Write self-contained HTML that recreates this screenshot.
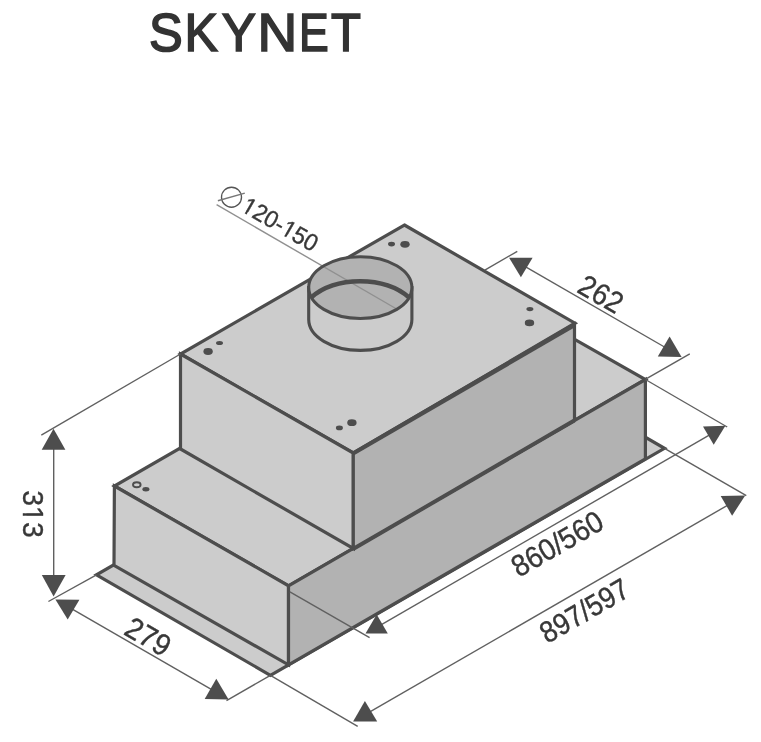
<!DOCTYPE html>
<html><head><meta charset="utf-8">
<style>
html,body{margin:0;padding:0;background:#fff;}
body{width:761px;height:742px;overflow:hidden;}
svg{display:block;will-change:transform;}
text{font-family:"Liberation Sans",sans-serif;}
</style></head>
<body>
<svg width="761" height="742" viewBox="0 0 761 742">
<rect width="761" height="742" fill="#fff"/>
<!-- title -->
<g font-size="55" fill="#333" stroke="#333" stroke-width="1.7">
<text transform="translate(149,51.3) scale(0.92,0.978)">S</text>
<text transform="translate(184.5,51.3) scale(0.91,0.978)">K</text>
<text transform="translate(221.8,51.3) scale(0.93,0.978)">Y</text>
<text transform="translate(257.5,51.3) scale(1,0.978)">N</text>
<text transform="translate(298.9,51.3) scale(0.81,0.978)">E</text>
<text transform="translate(330.9,51.3) scale(0.89,0.978)">T</text>
</g>

<g stroke="#4d4d4d" stroke-width="3.2" stroke-linejoin="miter" fill="#cccccc">
  <!-- plate -->
  <polygon points="96.5,574.8 270.4,675.3 664.5,448.3 490.5,347.4"/>
  <!-- lower box top -->
  <polygon points="114.4,486 288.5,585.8 645.4,379.5 471,280.5"/>
  <!-- lower box left face -->
  <polygon points="114.4,486 288.5,585.8 288.5,664.8 114,565.4"/>
  <!-- lower box right face -->
  <polygon fill="#b2b2b2" points="288.5,585.8 645.4,379.5 645.4,458.8 288.5,664.8"/>
  <!-- upper box top -->
  <polygon points="404.4,225 575,323.2 353.3,453 180.5,354"/>
  <!-- upper box left face -->
  <polygon points="180.5,354 353.3,453 353.3,548.5 180.5,449"/>
  <!-- upper box right face -->
  <polygon fill="#b2b2b2" points="353.3,453 574.5,324 574.5,420 353.3,548.5"/>
  <path d="M353.3,549.3 L574.5,420.9" fill="none"/>
  <path d="M353.3,453.9 L574.5,325.7" fill="none"/>
</g>

<!-- cylinder -->
<g stroke="#4d4d4d" stroke-width="3.1" fill="#cccccc">
  <path d="M308.7,287.6 L308.7,319.5 A51.6,30.9 0 0 0 411.9,319.5 L411.9,287.6 Z"/>
  <ellipse cx="360.3" cy="287.6" rx="51.6" ry="30.9" fill="#b2b2b2" stroke="none"/>
  <line x1="216.6" y1="204.7" x2="395.8" y2="308.5" stroke="#909090" stroke-width="1.4"/>
  <ellipse cx="360.3" cy="287.6" rx="51.6" ry="30.9" fill="none"/>
  <path d="M310.8,297.7 C336,275.8 384.2,275.8 409.4,297.7" fill="none" stroke-width="4.6"/>
</g>

<!-- dots -->
<g fill="#4d4d4d">
  <ellipse cx="391.5" cy="244.1" rx="3.5" ry="2.3"/>
  <ellipse cx="405" cy="244.3" rx="4.7" ry="3.4"/>
  <ellipse cx="529.9" cy="309.1" rx="3.5" ry="2.1"/>
  <ellipse cx="529.5" cy="322.9" rx="4.7" ry="3.3"/>
  <ellipse cx="208.1" cy="351.5" rx="4.7" ry="3.4"/>
  <ellipse cx="219.5" cy="343" rx="3.5" ry="2.1"/>
  <ellipse cx="351.9" cy="422.7" rx="4.7" ry="3.4"/>
  <ellipse cx="339.4" cy="427.9" rx="3.5" ry="2.3"/>
  <ellipse cx="145.9" cy="489.3" rx="3.5" ry="2.2"/>
  <ellipse cx="136.8" cy="484.8" rx="3.8" ry="2.5" fill="none" stroke="#4d4d4d" stroke-width="1.9"/>
</g>

<!-- thin lines -->
<g stroke="#606060" stroke-width="1.4" fill="none">
  <!-- extension lines -->
  <line x1="180.5" y1="354" x2="41.3" y2="435.2"/>
  <line x1="96.5" y1="574.8" x2="48.4" y2="601.5"/>
  <line x1="270.4" y1="675.3" x2="226.5" y2="700.7"/>
  <line x1="270.4" y1="675.3" x2="357.7" y2="726.3"/>
  <line x1="664.5" y1="448.3" x2="746.3" y2="495.7"/>
  <line x1="289.9" y1="591.9" x2="369.6" y2="637.7"/>
  <line x1="645.4" y1="379.5" x2="727.2" y2="427"/>
  <line x1="484.8" y1="270.2" x2="517.3" y2="251.3"/>
  <line x1="646.1" y1="378.9" x2="689.8" y2="353.9"/>
  <!-- dimension lines -->
  <line x1="53.7" y1="442.7" x2="53.7" y2="582.1"/>
  <line x1="67.5" y1="606.3" x2="216.5" y2="692.4"/>
  <line x1="520.9" y1="264.2" x2="669.7" y2="350"/>
  <line x1="376.7" y1="627.3" x2="714.4" y2="432.2"/>
  <line x1="365.1" y1="714.7" x2="732.7" y2="502.3"/>
</g>

<!-- arrows -->
<g fill="#4d4d4d">
  <polygon points="53.5,428.7 41.7,449.7 65.4,449.7"/>
  <polygon points="41.8,575.0 65.6,575.0 53.6,596.4"/>
  <polygon points="55.4,599.5 79.4,599.8 67.7,619.6"/>
  <polygon points="216.3,678.8 204.7,699.0 228.6,699.4"/>
  <polygon points="509.1,257.7 532.6,257.7 520.9,277.3"/>
  <polygon points="669.6,336.4 657.8,356.6 681.6,357.1"/>
  <polygon points="376.7,614.5 365.5,633.5 387.8,633.5"/>
  <polygon points="703.0,426.5 725.4,425.8 713.7,444.7"/>
  <polygon points="364.9,701.1 353.1,721.5 377.2,721.5"/>
  <polygon points="720.7,495.9 745.2,495.4 732.1,515.7"/>
</g>

<defs><clipPath id="c1"><path clip-rule="evenodd" d="M-200 -200H200V200H-200ZM-7.06 7.76H-0.80V13.80H-7.06ZM1.85 7.76H7.88V13.80H1.85Z"/></clipPath><clipPath id="c2"><path clip-rule="evenodd" d="M-200 -200H200V200H-200ZM-43.21 6.01H-38.00V11.60H-43.21ZM-35.88 6.01H-30.86V11.60H-35.88ZM4.82 6.01H10.03V11.60H4.82ZM12.15 6.01H17.17V11.60H12.15Z"/></clipPath></defs>
<!-- labels -->
<g fill="#383838" stroke="#383838" stroke-width="0.4" font-size="30" text-anchor="middle">
  <text transform="translate(34.2,514) rotate(90) scale(0.95,1)" dy="10.8" clip-path="url(#c1)">313</text>
  <text transform="translate(148.4,636.2) rotate(30) scale(0.95,1)" dy="10.8">279</text>
  <text transform="translate(601.2,293.6) rotate(30) scale(0.92,1)" dy="10.8">262</text>
  <text transform="translate(557,543.3) rotate(-30) scale(0.93,1)" dy="10.8">860/560</text>
  <text transform="translate(584,610.2) rotate(-30) scale(0.9,1)" dy="10.8">897/597</text>
  <text transform="translate(280.4,223.9) rotate(30) scale(0.95,1)" dy="8.6" font-size="24" clip-path="url(#c2)">120-150</text>
</g>
<g stroke="#555" stroke-width="1.35" fill="none">
  <circle cx="231.5" cy="197.2" r="10"/>
  <line x1="217.9" y1="200.8" x2="244.8" y2="193.1" stroke="#777" stroke-width="1.5"/>
</g>
</svg>
</body></html>
